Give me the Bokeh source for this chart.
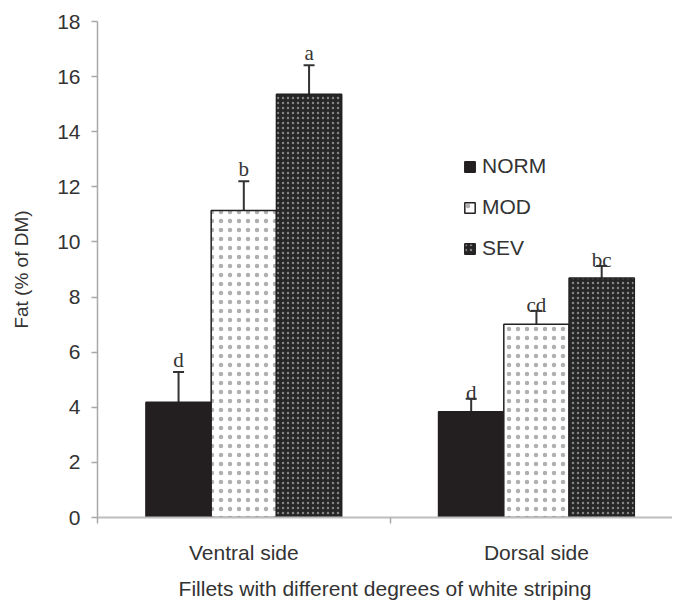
import numpy as np
from bokeh.plotting import figure
from bokeh.models import (ColumnDataSource, Range1d, FixedTicker, CustomJSTickFormatter,
                          Whisker, TeeHead, Legend, LegendItem)
from bokeh.core.properties import value
from bokeh.embed import file_html
from bokeh.resources import INLINE

# ---- data ----
groups = ["Ventral side", "Dorsal side"]
series = ["NORM", "MOD", "SEV"]
norm = [4.18, 3.84]
norm_se = [1.10, 0.47]
mod = [11.14, 7.01]
mod_se = [1.06, 0.49]
sev = [15.36, 8.69]
sev_se = [1.05, 0.44]
norm_letters = ["d", "d"]
mod_letters = ["b", "cd"]
sev_letters = ["a", "bc"]
y_ticks = [0, 2, 4, 6, 8, 10, 12, 14, 16, 18]

# ---- styles ----
DARK = "#231f20"
TEXT = "#333333"
AXIS = "#a8a8a8"
bar_w = 0.223
offsets = [-bar_w, 0.0, bar_w]
letter_gap = [12, 6]  # px above error caps, per group

p = figure(width=672, height=606, output_backend="svg", toolbar_location=None,
           x_range=Range1d(0, 1.965), y_range=Range1d(0, 18),
           min_border_left=97, min_border_right=0, min_border_top=21, min_border_bottom=89)
p.outline_line_color = None
p.xgrid.visible = False
p.ygrid.visible = False
p.background_fill_color = "white"

centers = np.arange(len(groups)) + 0.5
vals = [norm, mod, sev]
ses = [norm_se, mod_se, sev_se]
letters = [norm_letters, mod_letters, sev_letters]
styles = [
    dict(fill_color=DARK, line_color=DARK),
    dict(fill_color="white", line_color=DARK, hatch_pattern=".", hatch_color="#b0b0b0",
         hatch_scale=9, hatch_weight=0.8),
    dict(fill_color="#262626", line_color=DARK, hatch_pattern=".", hatch_color="#858585",
         hatch_scale=5, hatch_weight=1.4),
]

items = []
for i, name in enumerate(series):
    top = np.array(vals[i])
    se = np.array(ses[i])
    src = ColumnDataSource(dict(x=centers + offsets[i], top=top, upper=top + se,
                                lab=letters[i], gap=[-g for g in letter_gap]))
    r = p.vbar(x="x", top="top", width=bar_w, bottom=0, source=src, line_width=1.5, **styles[i])
    items.append(LegendItem(label=name, renderers=[r]))
    w = Whisker(base="x", lower="top", upper="upper", source=src, dimension="height",
                line_color=TEXT, line_width=2,
                upper_head=TeeHead(size=11, line_color=TEXT, line_width=2), lower_head=None)
    p.add_layout(w)
    p.text(x="x", y="upper", text="lab", source=src, y_offset="gap",
           text_align="center", text_baseline="alphabetic",
           text_font=value("Liberation Serif"), text_font_size="21px", text_color=TEXT)

legend = Legend(items=items, location=(366, 257), orientation="vertical",
                glyph_width=13, glyph_height=13, label_height=20, spacing=17,
                padding=0, margin=0, border_line_color=None, background_fill_alpha=0,
                label_text_font="Liberation Sans", label_text_font_size="21px",
                label_text_color=TEXT, label_standoff=6)
p.add_layout(legend)

# y axis
ya = p.yaxis[0]
ya.ticker = FixedTicker(ticks=y_ticks)
ya.minor_tick_line_color = None
ya.major_tick_in = 0
ya.major_tick_out = 6
ya.axis_line_color = AXIS
ya.axis_line_width = 1.5
ya.major_tick_line_color = AXIS
ya.major_tick_line_width = 1.5
ya.major_label_text_font = "Liberation Sans"
ya.major_label_text_font_size = "21px"
ya.major_label_text_color = TEXT
ya.major_label_standoff = 11
ya.axis_label = "Fat (% of DM)"
ya.axis_label_text_font = "Liberation Sans"
ya.axis_label_text_font_size = "19px"
ya.axis_label_text_font_style = "normal"
ya.axis_label_text_color = TEXT
ya.axis_label_standoff = 22

# x axis
xa = p.xaxis[0]
xa.ticker = FixedTicker(ticks=list(centers), minor_ticks=[0, 1, 2])
xa.formatter = CustomJSTickFormatter(args=dict(labels=groups),
                                     code="return labels[Math.floor(tick)];")
xa.major_tick_in = 0
xa.major_tick_out = 0
xa.major_tick_line_color = None
xa.minor_tick_in = 0
xa.minor_tick_out = 6
xa.minor_tick_line_color = AXIS
xa.minor_tick_line_width = 1.5
xa.axis_line_color = "#bdbdbd"
xa.axis_line_width = 2
xa.major_label_text_font = "Liberation Sans"
xa.major_label_text_font_size = "21px"
xa.major_label_text_color = TEXT
xa.major_label_standoff = 17
xa.axis_label = "Fillets with different degrees of white striping"
xa.axis_label_text_font = "Liberation Sans"
xa.axis_label_text_font_size = "21px"
xa.axis_label_text_font_style = "normal"
xa.axis_label_text_color = TEXT
xa.axis_label_standoff = 10

open("out.html", "w").write(file_html(p, INLINE))
